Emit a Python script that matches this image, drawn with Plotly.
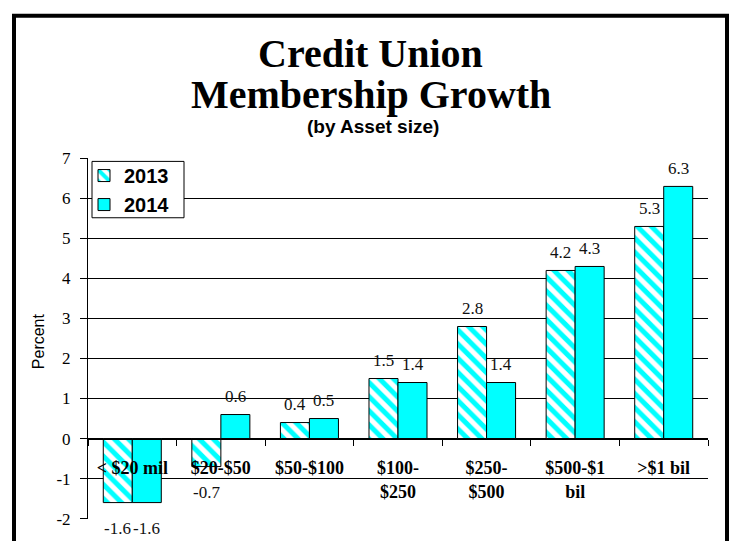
import plotly.graph_objects as go

# Asset-size classes of credit unions and their membership growth (%)
categories = ["< $20 mil", "$20-$50", "$50-$100", "$100-$250",
              "$250-$500", "$500-$1 bil", ">$1 bil"]
category_labels = ["&lt; $20 mil", "$20-$50", "$50-$100", "$100-<br>$250",
                   "$250-<br>$500", "$500-$1<br>bil", "&gt;$1 bil"]
growth_2013 = [-1.6, -0.7, 0.4, 1.5, 2.8, 4.2, 5.3]
growth_2014 = [-1.6, 0.6, 0.5, 1.4, 1.4, 4.3, 6.3]
y_ticks = [-2, -1, 0, 1, 2, 3, 4, 5, 6, 7]
y_tick_labels = [str(v) for v in y_ticks]

CYAN = "#00FFFF"
SERIF = "Liberation Serif, Times New Roman, serif"
SANS = "Liberation Sans, Arial, sans-serif"

W, H = 732, 541
M_L, M_R, M_T, M_B = 88, 24, 157.5, 12
PW = W - M_L - M_R
PH = H - M_T - M_B
BARGAP = 0.345

def px_x(x):
    return (x - M_L) / PW

def px_y(y):
    return (H - M_B - y) / PH

y_lo, y_hi = -2.01, 7.01

# half of one bar's width in pixels, used to put each value label over its bar
half_bar = PW / len(categories) * (1 - BARGAP) / 4

fig = go.Figure()
fig.add_trace(go.Bar(
    name="2013", x=categories, y=growth_2013,
    marker=dict(color="white", line=dict(color="black", width=1),
                pattern=dict(shape="\\", fgcolor=CYAN, bgcolor="white",
                             size=10, solidity=0.5, fillmode="replace")),
))
fig.add_trace(go.Bar(
    name="2014", x=categories, y=growth_2014,
    marker=dict(color=CYAN, line=dict(color="black", width=1)),
))

value_labels = []
for values, shift in ((growth_2013, -half_bar), (growth_2014, half_bar)):
    for cat, v in zip(categories, values):
        value_labels.append(dict(
            text=str(v), x=cat, y=v, xref="x", yref="y",
            xanchor="center", yanchor="bottom" if v >= 0 else "top",
            xshift=shift, yshift=6.5 if v >= 0 else -14.5,
            showarrow=False,
            font=dict(family=SERIF, size=17, color="#111"),
        ))

fig.update_layout(
    width=W, height=H, autosize=False,
    margin=dict(l=M_L, r=M_R, t=M_T, b=M_B, pad=0),
    paper_bgcolor="white", plot_bgcolor="white",
    barmode="group", bargap=BARGAP, bargroupgap=0,
    showlegend=True,
    legend=dict(x=px_x(84), y=px_y(155.5), xanchor="left", yanchor="top",
                bgcolor="rgba(0,0,0,0)", borderwidth=0,
                font=dict(family=SANS, size=20, color="black", weight="bold"),
                tracegroupgap=0),
    xaxis=dict(
        type="category", anchor="free",
        position=(0 - y_lo) / (y_hi - y_lo),
        tickmode="array", tickvals=categories, ticktext=category_labels,
        tickson="boundaries", ticks="outside", ticklen=6, tickcolor="black",
        showline=True, linecolor="black", linewidth=1,
        showgrid=False, zeroline=False,
        tickfont=dict(family=SERIF, size=18, color="black", weight="bold"),
        ticklabelstandoff=13,
    ),
    yaxis=dict(
        range=[y_lo, y_hi], domain=[0, 1],
        tickmode="array", tickvals=y_ticks, ticktext=y_tick_labels,
        ticks="outside", ticklen=7, tickcolor="black",
        showline=True, linecolor="black", linewidth=1,
        showgrid=True, gridcolor="black", gridwidth=1, zeroline=False,
        tickfont=dict(family=SERIF, size=17, color="black"),
        ticklabelstandoff=6,
    ),
    shapes=[
        # legend box
        dict(type="rect", xref="paper", yref="paper",
             x0=px_x(92), x1=px_x(184), y0=px_y(219), y1=px_y(161),
             line=dict(color="black", width=1), fillcolor="white",
             layer="above"),
        # outer frame
        dict(type="rect", xref="paper", yref="paper",
             x0=px_x(14), x1=px_x(727), y0=px_y(580), y1=px_y(11),
             line=dict(color="black", width=4), fillcolor="rgba(0,0,0,0)",
             layer="above"),
    ],
    annotations=value_labels + [
        dict(text="Credit Union", xref="paper", yref="paper",
             x=px_x(370.5), y=px_y(50), xanchor="center", yanchor="middle",
             showarrow=False,
             font=dict(family=SERIF, size=40, color="black", weight="bold")),
        dict(text="Membership Growth", xref="paper", yref="paper",
             x=px_x(370.5), y=px_y(92), xanchor="center", yanchor="middle",
             showarrow=False,
             font=dict(family=SERIF, size=40, color="black", weight="bold")),
        dict(text="(by Asset size)", xref="paper", yref="paper",
             x=px_x(373), y=px_y(125), xanchor="center", yanchor="middle",
             showarrow=False,
             font=dict(family=SANS, size=19, color="black", weight="bold")),
        dict(text="Percent", xref="paper", yref="paper",
             x=px_x(38), y=px_y(346), xanchor="center", yanchor="middle",
             textangle=-90, showarrow=False,
             font=dict(family=SANS, size=16, color="black")),
    ],
)

fig.write_html("out.html")
